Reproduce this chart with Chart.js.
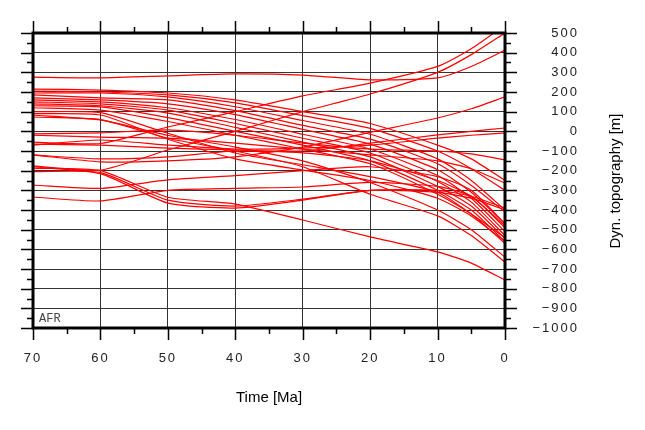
<!DOCTYPE html>
<html>
<head>
<meta charset="utf-8">
<script src="https://cdn.jsdelivr.net/npm/chart.js@4.4.1/dist/chart.umd.min.js"></script>
<style>
  html, body { margin: 0; padding: 0; background: #fff; }
</style>
</head>
<body>
<canvas id="chart" width="645" height="430"></canvas>
<script>
// sample times (Ma) shared by every curve
const times = [70, 60, 50, 40, 30, 20, 10, 5, 0];

// tick labels
const xTicks = [70, 60, 50, 40, 30, 20, 10, 0];
const yTicks = [500, 400, 300, 200, 100, 0, -100, -200, -300, -400, -500, -600, -700, -800, -900, -1000];

// dynamic topography curves [m]
const topo01 = [276, 272, 282, 292, 286, 262, 272, 330, 413];
const topo02 = [-176, -197, -95, 0, 100, 190, 300, 390, 500];
const topo03 = [-55, -62, 22, 100, 180, 245, 330, 420, 540];
const topo04 = [-120, -155, -150, -130, -80, -5, 68, 115, 175];
const topo05 = [-187, -200, -335, -370, -451, -537, -613, -670, -756];
const topo06 = [-205, -210, -350, -380, -345, -300, -310, -340, -400];
const topo07 = [-180, -215, -365, -390, -350, -300, -300, -330, -390];
const topo08 = [-273, -290, -247, -225, -200, -180, -230, -300, -470];
const topo09 = [-334, -354, -300, -290, -283, -260, -280, -330, -490];
const topo10 = [-13, -8, 7, -20, -60, -90, -100, -115, -145];
const topo11 = [-20, -29, -35, -60, -90, -120, -150, -190, -263];
const topo12 = [-65, -70, -85, -95, -100, -60, -18, 0, 17];
const topo13 = [-70, -44, -70, -90, -85, -70, -35, -20, -8];
const topo14 = [215, 210, 195, 160, 100, 40, -70, -140, -250];
const topo15 = [205, 200, 185, 145, 80, 15, -100, -190, -300];
const topo16 = [195, 195, 175, 125, 55, -15, -140, -250, -400];
const topo17 = [185, 170, 160, 105, 30, -40, -165, -275, -410];
const topo18 = [170, 160, 140, 85, 10, -65, -195, -310, -470];
const topo19 = [160, 150, 120, 60, -15, -90, -225, -340, -510];
const topo20 = [150, 140, 108, 40, -35, -110, -255, -360, -530];
const topo21 = [140, 130, 93, 20, -55, -130, -280, -380, -545];
const topo22 = [130, 124, 70, 0, -70, -150, -300, -400, -560];
const topo23 = [120, 108, 50, -20, -90, -165, -320, -420, -570];
const topo24 = [100, 95, -10, -110, -170, -230, -310, -420, -540];
const topo25 = [90, 83, -40, -140, -197, -250, -340, -430, -560];
const topo26 = [83, 58, -20, -80, -150, -260, -400, -500, -640];
const topo27 = [73, 60, -35, -100, -180, -320, -430, -530, -665];
const topo28 = [-120, -140, -130, -100, -110, -150, -250, -330, -480];

const curves = [topo01, topo02, topo03, topo04, topo05, topo06, topo07, topo08, topo09, topo10,
  topo11, topo12, topo13, topo14, topo15, topo16, topo17, topo18, topo19, topo20,
  topo21, topo22, topo23, topo24, topo25, topo26, topo27, topo28];

const minus = (v) => (v < 0 ? `\u2212${Math.abs(v)}` : `${v}`);

// frame, outer tick marks, axis titles and region tag
const framePlugin = {
  id: 'frame',
  beforeLayout: (ch) => { ch.ctx.letterSpacing = '2px'; },
  beforeDraw: (ch) => { ch.ctx.letterSpacing = '2px'; },
  afterDraw: (ch) => {
    const { ctx, chartArea: a, scales: { x, y } } = ch;
    ctx.save();
    ctx.letterSpacing = '0px';
    ctx.strokeStyle = '#000';
    ctx.lineWidth = 1.5;
    ctx.beginPath();
    for (let v = -1000; v <= 500; v += 50) {
      const py = Math.round(y.getPixelForValue(v)) + 0.5;
      const len = v % 100 === 0 ? 12 : 6;
      ctx.moveTo(a.left - len, py);
      ctx.lineTo(a.left, py);
      ctx.moveTo(a.right, py);
      ctx.lineTo(a.right + len, py);
    }
    for (let t = 0; t <= 70; t += 5) {
      const px = Math.round(x.getPixelForValue(t)) + 0.5;
      const len = t % 10 === 0 ? 12 : 6;
      ctx.moveTo(px, a.top - len);
      ctx.lineTo(px, a.top);
      ctx.moveTo(px, a.bottom);
      ctx.lineTo(px, a.bottom + len);
    }
    ctx.stroke();
    ctx.lineWidth = 3;
    ctx.strokeRect(a.left, a.top, a.right - a.left, a.bottom - a.top);

    ctx.fillStyle = '#444';
    ctx.font = '12px "Liberation Mono"';
    ctx.textAlign = 'left';
    ctx.textBaseline = 'alphabetic';
    ctx.fillText('AFR', a.left + 6, a.bottom - 6);

    ctx.fillStyle = '#000';
    ctx.font = '15px "Liberation Sans"';
    ctx.textAlign = 'center';
    ctx.textBaseline = 'middle';
    ctx.fillText('Time [Ma]', (a.left + a.right) / 2, 398);
    ctx.translate(616, 181);
    ctx.rotate(-Math.PI / 2);
    ctx.fillText('Dyn. topography [m]', 0, 0);
    ctx.restore();
  },
};

// eslint-disable-next-line no-undef
new Chart(document.getElementById('chart'), {
  type: 'line',
  data: {
    datasets: curves.map((c, i) => ({
      label: `curve ${i + 1}`,
      data: c.map((v, j) => ({ x: times[j], y: v })),
      borderColor: '#ff0000',
      borderWidth: 1.2,
      pointRadius: 0,
      tension: 0.2,
      fill: false,
    })),
  },
  plugins: [framePlugin],
  options: {
    responsive: false,
    animation: false,
    layout: { padding: { left: 33, top: 33, right: 66, bottom: 0 } },
    plugins: {
      legend: { display: false },
      tooltip: { enabled: false },
    },
    scales: {
      x: {
        type: 'linear',
        min: 0,
        max: 70,
        reverse: true,
        afterBuildTicks: (s) => { s.ticks = xTicks.map((v) => ({ value: v })); },
        afterFit: (s) => { s.height = 102; },
        border: { display: false },
        grid: { color: '#333', lineWidth: 1, drawTicks: false },
        ticks: {
          color: '#222',
          font: { family: '"Liberation Sans"', size: 13 },
          padding: 23,
          maxRotation: 0,
          autoSkip: false,
        },
      },
      y: {
        type: 'linear',
        position: 'right',
        min: -1000,
        max: 500,
        afterBuildTicks: (s) => { s.ticks = yTicks.map((v) => ({ value: v })); },
        afterFit: (s) => { s.width = 74; },
        border: { display: false },
        grid: { color: '#333', lineWidth: 1, drawTicks: false },
        ticks: {
          color: '#222',
          font: { family: '"Liberation Sans"', size: 13 },
          padding: 20,
          crossAlign: 'far',
          autoSkip: false,
          callback: (v) => minus(v),
        },
      },
    },
  },
});
</script>
</body>
</html>
